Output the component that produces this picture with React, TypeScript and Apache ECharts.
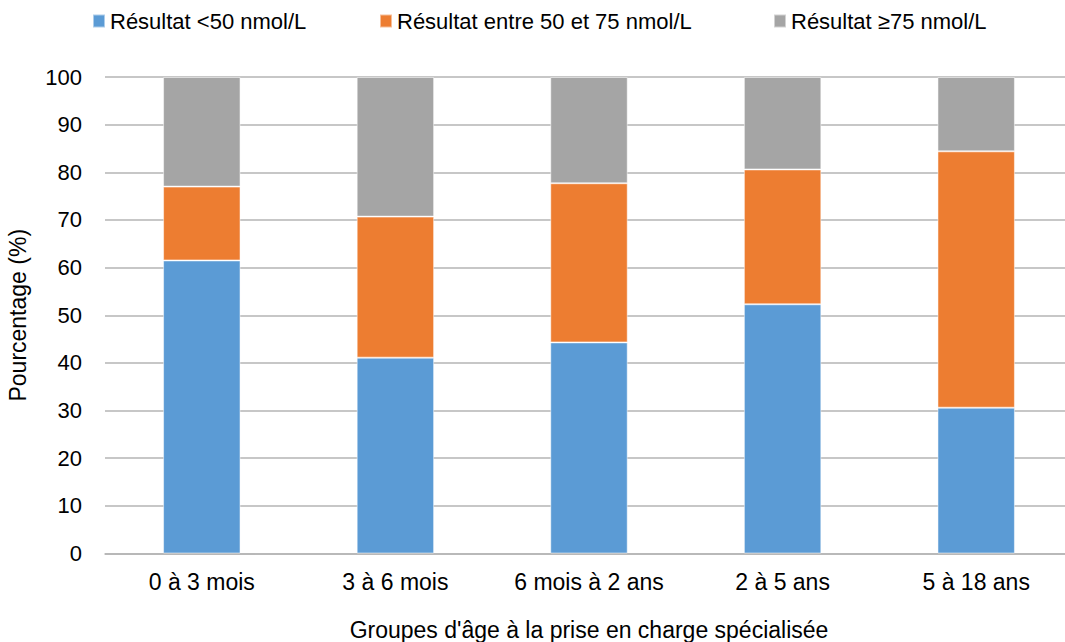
import React, { useEffect, useRef } from "react";
import * as echarts from "echarts";

const categories = ["0 à 3 mois", "3 à 6 mois", "6 mois à 2 ans", "2 à 5 ans", "5 à 18 ans"];
const below50 = [61.5, 41.1, 44.3, 52.3, 30.6];
const between50and75 = [15.5, 29.6, 33.4, 28.3, 53.8];
const above75 = [23.0, 29.3, 22.3, 19.4, 15.6];
const seriesNames = ["Résultat <50 nmol/L", "Résultat entre 50 et 75 nmol/L", "Résultat ≥75 nmol/L"];
const colors = ["#5B9BD5", "#ED7D31", "#A5A5A5"];
const FONT = "Liberation Sans, Arial, Helvetica, sans-serif";
const FS = 23;

export default function App() {
  const ref = useRef<HTMLDivElement>(null);
  useEffect(() => {
    document.body.style.margin = "0";
    const chart = echarts.init(ref.current!, null, { renderer: "svg" });
    const data = [below50, between50and75, above75];
    const legendLefts = [92, 379, 773];
    chart.setOption({
      animation: false,
      textStyle: { fontFamily: FONT },
      color: colors,
      legend: seriesNames.map((name, i) => ({
        top: 10,
        left: legendLefts[i],
        itemWidth: 12,
        itemHeight: 13,
        padding: 0,
        textStyle: { fontSize: FS - 1, color: "#000", fontFamily: FONT },
        icon: "rect",
        data: [name],
      })),
      grid: { left: 105, right: -8, top: 77, bottom: 88.5, containLabel: false, outerBoundsMode: "none" },
      xAxis: {
        type: "category",
        data: categories,
        name: "Groupes d'âge à la prise en charge spécialisée",
        nameLocation: "middle",
        nameGap: 65,
        nameTextStyle: { fontSize: FS, color: "#000", fontFamily: FONT },
        axisLine: { lineStyle: { color: "#b4b4b4", width: 1.5 } },
        axisTick: { show: false },
        axisLabel: { fontSize: FS, color: "#000", margin: 17, fontFamily: FONT, interval: 0 },
      },
      yAxis: {
        type: "value",
        min: 0,
        max: 100,
        interval: 10,
        name: "Pourcentage (%)",
        nameLocation: "middle",
        nameGap: 76,
        nameRotate: 90,
        nameTextStyle: { fontSize: FS, color: "#000", fontFamily: FONT },
        axisLine: { show: false },
        axisTick: { show: false },
        axisLabel: { fontSize: FS - 1, color: "#000", margin: 23, fontFamily: FONT },
        splitLine: { lineStyle: { color: "#b4b4b4", width: 1.5 } },
      },
      series: seriesNames.map((name, i) => ({
        name,
        type: "bar",
        stack: "total",
        barWidth: "40%",
        data: data[i],
        itemStyle: { color: colors[i], borderColor: "rgba(255,255,255,0.5)", borderWidth: 1 },
      })),
    });
    return () => chart.dispose();
  }, []);
  return <div ref={ref} style={{ width: 1065, height: 642 }} />;
}
